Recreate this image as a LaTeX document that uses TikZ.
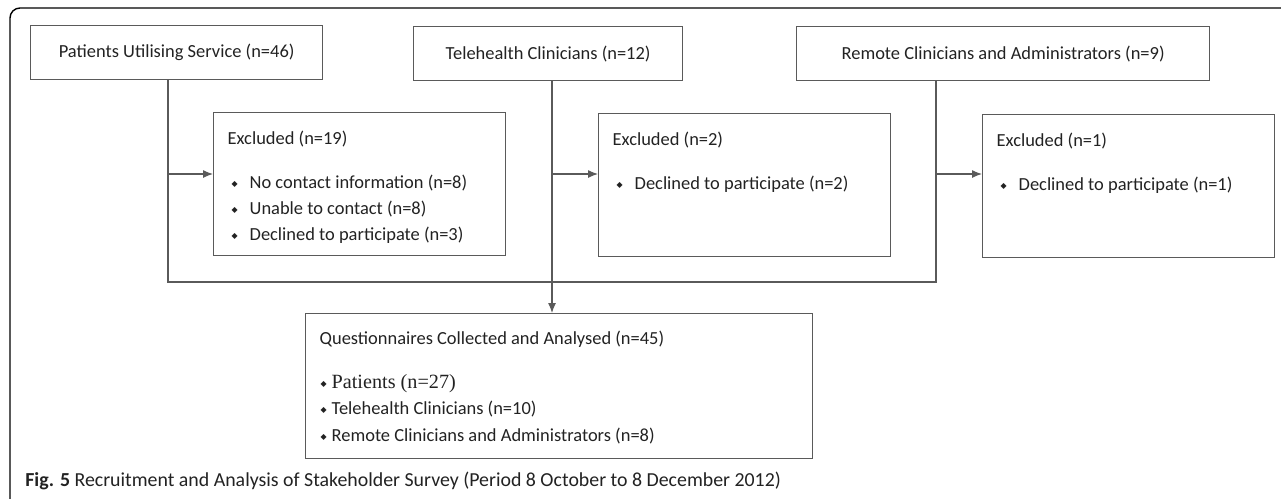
\documentclass[tikz,border=0pt]{standalone}
\usepackage{fontspec}
\setmainfont{Carlito}
\newfontfamily\timesfont{Liberation Serif}
\newfontfamily\symbfont{DejaVu Sans}
\usetikzlibrary{arrows.meta}
\definecolor{boxgray}{HTML}{5A5A5A}
\definecolor{txtgray}{HTML}{222222}
\newlength\pxu
\setlength\pxu{0.02cm}
\newcommand\bul{\makebox[6\pxu][c]{\symbfont\fontsize{4.5}{5}\selectfont\raisebox{0.4ex}{◆}}}
\newcommand\itm[1]{\hspace*{18\pxu}\bul\hspace{12\pxu}#1}
\newcommand\itmb[1]{\hspace*{15\pxu}\bul\hspace{5\pxu}#1}

\begin{document}
\begin{tikzpicture}[x=0.02cm,y=-0.02cm,
    topbox/.style={draw=boxgray,line width=0.75pt,anchor=north west,inner sep=0pt,
      minimum height=54\pxu,text=txtgray,font=\fontsize{10.5}{14.7}\selectfont},
    listbox/.style={draw=boxgray,line width=0.75pt,anchor=north west,inner sep=0pt,
      text=txtgray,font=\fontsize{10.5}{14.7}\selectfont},
    link/.style={draw=boxgray,line width=0.65pt},
    arr/.style={link,-{Latex[length=0.2cm,width=0.16cm]}}]
  \useasboundingbox (0,0) rectangle (1281,498);
  \draw[line width=0.8pt,rounded corners=0.2cm] (10,505) -- (10,8) -- (1290,8);

  \node[topbox,minimum width=292\pxu] (pat) at (30,25) {Patients Utilising Service (n=46)};
  \node[topbox,minimum width=269\pxu] (tel) at (413,26) {Telehealth Clinicians (n=12)};
  \node[topbox,minimum width=413\pxu] (rem) at (796,26) {Remote Clinicians and Administrators (n=9)};

  \node[listbox] (exa) at (213,112) {\parbox[c][143\pxu][t]{292\pxu}{\rule{0pt}{32\pxu}\hspace*{14\pxu}Excluded (n=19)\\[18\pxu]
    \itm{No contact information (n=8)}\\
    \itm{Unable to contact (n=8)}\\
    \itm{Declined to participate (n=3)}}};
  \node[listbox] (exb) at (598,113) {\parbox[c][143\pxu][t]{292\pxu}{\rule{0pt}{32\pxu}\hspace*{14\pxu}Excluded (n=2)\\[18\pxu]
    \itm{Declined to participate (n=2)}}};
  \node[listbox] (exc) at (982,114) {\parbox[c][143\pxu][t]{292\pxu}{\rule{0pt}{32\pxu}\hspace*{14\pxu}Excluded (n=1)\\[18\pxu]
    \itm{Declined to participate (n=1)}}};

  \node[listbox] (fin) at (305,313) {\parbox[c][145\pxu][t]{507\pxu}{\rule{0pt}{31\pxu}\hspace*{14\pxu}Questionnaires Collected and Analysed (n=45)\\[18\pxu]
    \itmb{{\timesfont\fontsize{11.5}{14.7}\selectfont Patients (n=27)}}\\
    \itmb{Telehealth Clinicians (n=10)}\\[1\pxu]
    \itmb{Remote Clinicians and Administrators (n=8)}}};

  \coordinate (jl) at (168,282);
  \coordinate (jr) at (936,282);
  \coordinate (jm) at (552,0);
  \coordinate (ya) at (0,174);
  \draw[link] (pat.south -| jl) -- (jl) -- (jr) -- (rem.south -| jr);
  \draw[arr] (tel.south -| jm) -- (fin.north -| jm);
  \draw[arr] (jl |- ya) -- (exa.west |- ya);
  \draw[arr] (jm |- ya) -- (exb.west |- ya);
  \draw[arr] (jr |- ya) -- (exc.west |- ya);

  \node[anchor=base west,inner sep=0pt,text=txtgray,font=\fontsize{11.3}{13}\selectfont] (cap) at (25,486)
    {\textbf{Fig. 5} Recruitment and Analysis of Stakeholder Survey (Period 8 October to 8 December 2012)};
\end{tikzpicture}
\end{document}
